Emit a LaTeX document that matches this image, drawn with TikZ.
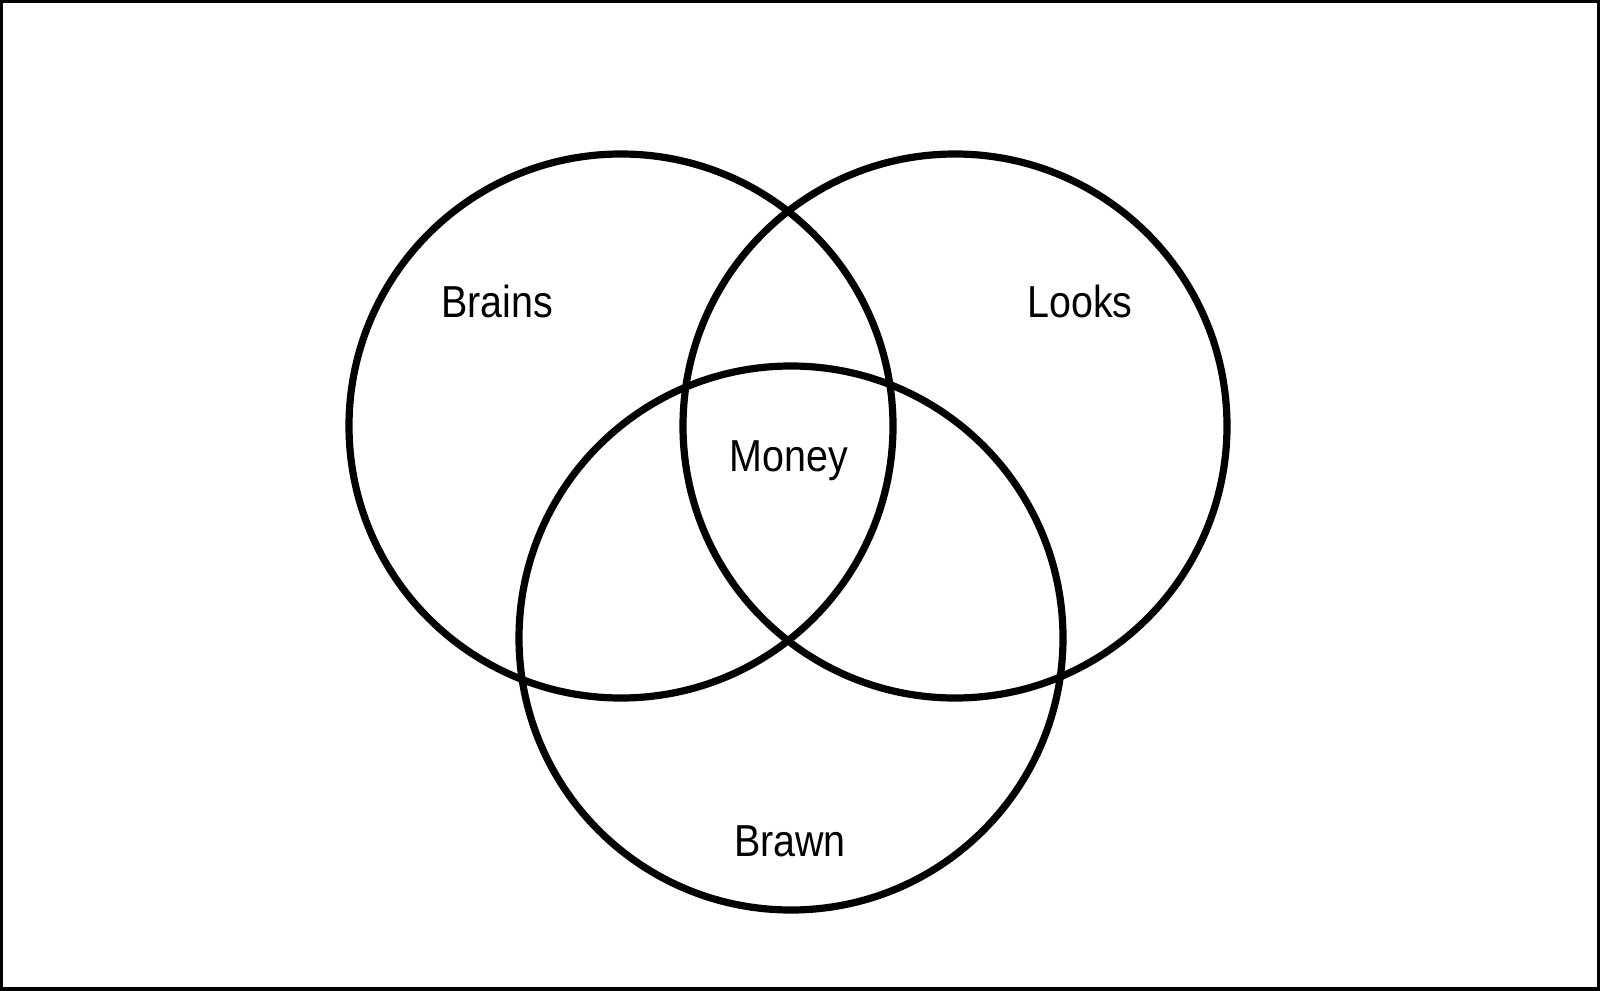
\documentclass[tikz,border=0pt]{standalone}
\usepackage{fontspec}
\setmainfont{Liberation Sans}[FakeStretch=0.88]
\begin{document}
\begin{tikzpicture}[x=0.5pt,y=-0.5pt,
  ring/.style={draw=black,line width=3.6pt,circle,minimum size=272pt,inner sep=0pt,outer sep=0pt},
  lbl/.style={font=\fontsize{22.4pt}{26pt}\selectfont,anchor=base,inner sep=0pt}]
\useasboundingbox (0,0) rectangle (1600,990);
\draw[line width=1.6pt] (1,1) rectangle (1599,989);
\node[ring] (brains) at (621,426) {};
\node[ring] (looks) at (955,426) {};
\node[ring] (brawn) at (791,638) {};
\node[lbl] (tb) at (497,317) {Brains};
\node[lbl] (tl) at (1080,317) {Looks};
\node[lbl] (tm) at (789,471.5) {Money};
\node[lbl] (tw) at (790,856) {Brawn};
\end{tikzpicture}
\end{document}
